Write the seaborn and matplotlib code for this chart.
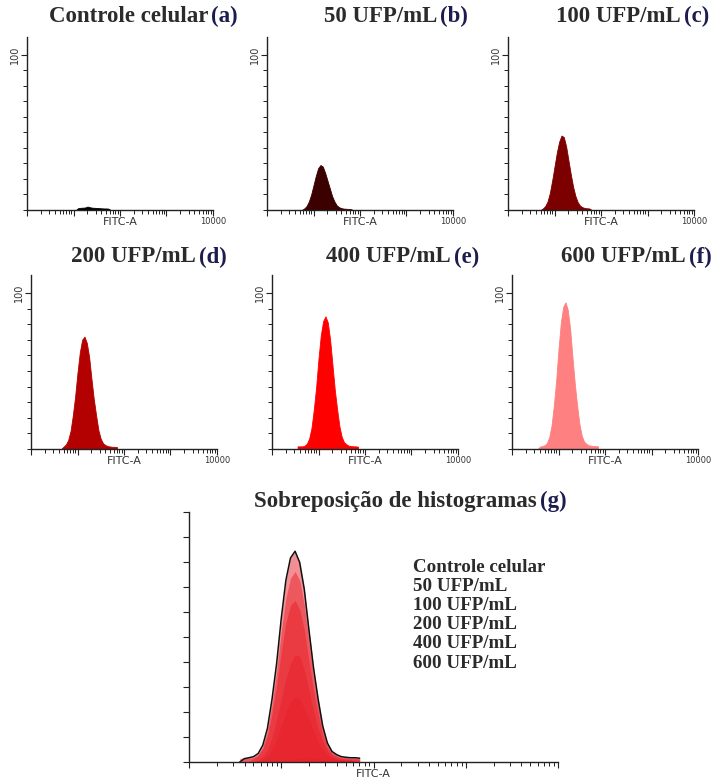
import numpy as np
import pandas as pd
import matplotlib
matplotlib.use('Agg')
import matplotlib.pyplot as plt
import seaborn as sns

# FITC-A intensity, log10 units (bin centres, width 0.05)
bin_centers = [0.55, 0.60, 0.65, 0.70, 0.75, 0.80, 0.85, 0.90, 0.95, 1.00,
               1.05, 1.10, 1.15, 1.20, 1.25, 1.30, 1.35, 1.40, 1.45, 1.50,
               1.55, 1.60, 1.65, 1.70, 1.75, 1.80, 1.85]

# cell counts per bin
controle = [0, 0, 0, 0, 0, 0, 0, 0, 0, 0, 0, 1.2, 1.4, 1.5, 1.6, 2.2, 1.8, 1.5,
            1.4, 1.3, 1.2, 1.1, 1.0, 1.0, 0.9, 0, 0]
ufp_50 = [0, 0, 0, 0, 0, 1.0, 2.5, 5.5, 10, 16, 22, 27, 29, 28, 24, 19, 14, 9,
          5.5, 3, 1.8, 1.2, 0.9, 0.8, 0.7, 0.6, 0]
ufp_100 = [0, 0, 0, 0, 1.0, 2.5, 5.5, 11, 19, 28, 37, 44, 48, 47, 41, 32, 23, 15,
           9, 5, 2.8, 1.8, 1.3, 1.1, 1.0, 0, 0]
ufp_200 = [0, 0, 0, 1.5, 2.9, 5.8, 11.5, 21.6, 34, 49, 62, 70, 72, 68, 59, 45, 32,
           21.6, 12, 6.5, 3.6, 2.5, 1.8, 1.6, 1.4, 1.4, 1.2]
ufp_400 = [1.7, 1.7, 1.7, 2.1, 3.4, 6.8, 13.6, 25.5, 40, 58, 73, 82, 85, 81, 70, 54,
           38, 25.5, 14.5, 7.7, 4.3, 3.0, 2.1, 1.9, 1.7, 1.7, 1.5]
ufp_600 = [0, 1.5, 1.9, 2.4, 3.8, 7.5, 15, 28, 44, 64, 81, 91, 94, 89, 77, 59, 42,
           28, 16, 8.5, 4.7, 3.3, 2.4, 2.1, 1.9, 1.9, 1.7]

series = [controle, ufp_50, ufp_100, ufp_200, ufp_400, ufp_600]
titles = ['Controle celular', '50 UFP/mL', '100 UFP/mL',
          '200 UFP/mL', '400 UFP/mL', '600 UFP/mL']
letters = ['(a)', '(b)', '(c)', '(d)', '(e)', '(f)']
colors = ['#000000', '#3b0000', '#7d0000', '#b30000', '#ff0000', '#ff8080']

sns.set_style('ticks')
plt.rcParams['font.family'] = ['DejaVu Sans']
serif = ['Liberation Serif', 'DejaVu Serif']

W, H = 716, 779
fig = plt.figure(figsize=(W / 100, H / 100), dpi=100)

edges = [round(c - 0.025, 3) for c in bin_centers] + [round(bin_centers[-1] + 0.025, 3)]
minor_x = [d + np.log10(k) for d in range(4) for k in range(2, 10)]


def add_ax(x0, y0, x1, y1):
    return fig.add_axes([x0 / W, 1 - y1 / H, (x1 - x0) / W, (y1 - y0) / H])


def hist(ax, vals, **kw):
    df = pd.DataFrame({'fitc': bin_centers, 'count': vals})
    sns.histplot(data=df, x='fitc', weights='count', bins=edges,
                 element='poly', ax=ax, **kw)


def style(ax, show_labels=True):
    ax.set_xlim(0, 4)
    ax.set_ylim(0, 111.5)
    sns.despine(ax=ax)
    for s in ['left', 'bottom']:
        ax.spines[s].set_color('#222222')
        ax.spines[s].set_linewidth(1.0)
    ax.set_xticks([0, 1, 2, 3, 4])
    ax.set_xticks(minor_x, minor=True)
    if show_labels:
        ax.set_xticklabels(['', '', '', '', '10000'], fontsize=6)
        ax.set_yticks([100])
        ax.set_yticklabels(['100'], rotation=90, va='center', fontsize=7)
        ax.set_yticks(range(0, 100, 10), minor=True)
    else:
        ax.set_xticklabels([])
        ax.set_yticks(np.linspace(0, 111.5, 11))
        ax.set_yticklabels([])
    ax.tick_params(which='both', bottom=True, left=True, direction='out')
    ax.tick_params(which='major', length=4, width=0.8, pad=1,
                   color='#222222', labelcolor='#333333')
    ax.tick_params(which='minor', length=3, width=0.7, color='#222222')
    ax.set_xlabel('FITC-A', fontsize=8, color='#333333', va='center')
    ax.set_ylabel('')


def title(text, letter, x_end, y, size=16.5):
    fig.text(x_end / W, 1 - y / H, text, ha='right', va='center', family=serif,
             weight='bold', fontsize=size, color='#2b2b2b')
    fig.text((x_end + 3) / W, 1 - y / H, letter, ha='left', va='center',
             family=serif, weight='bold', fontsize=size, color='#1c1c4e')


# small panels: (left, top, right, bottom) in pixels
boxes = [(27, 37, 213, 210), (267, 37, 453, 210), (508, 37, 694, 210),
         (31, 275, 217, 449), (272, 275, 458, 449), (512, 275, 698, 449)]
title_pos = [(208, 16), (437, 16), (681, 16), (196, 257), (451, 257), (686, 257)]

for vals, t, let, col, box, tp in zip(series, titles, letters, colors, boxes, title_pos):
    ax = add_ax(*box)
    hist(ax, vals, fill=True, color=col, alpha=1, linewidth=0.6)
    style(ax)
    ax.xaxis.set_label_coords(0.5, -12 / 173)
    title(t, let, *tp)

# overlay panel (g)
axg = add_ax(189, 512, 558, 762)
for vals in series[::-1]:
    hist(axg, vals, fill=True, color='#e8202a', alpha=0.5, linewidth=0)
hist(axg, ufp_600, fill=False, color='#111111', linewidth=1.1)
style(axg, show_labels=False)
axg.xaxis.set_label_coords(0.5, -12 / 250)
title('Sobreposição de histogramas', '(g)', 537, 501)

for i, t in enumerate(titles):
    fig.text(413 / W, 1 - (567 + i * 19.2) / H, t, ha='left', va='center',
             family=serif, weight='bold', fontsize=13.7, color='#2b2b2b')

fig.savefig('out.png', dpi=100)
